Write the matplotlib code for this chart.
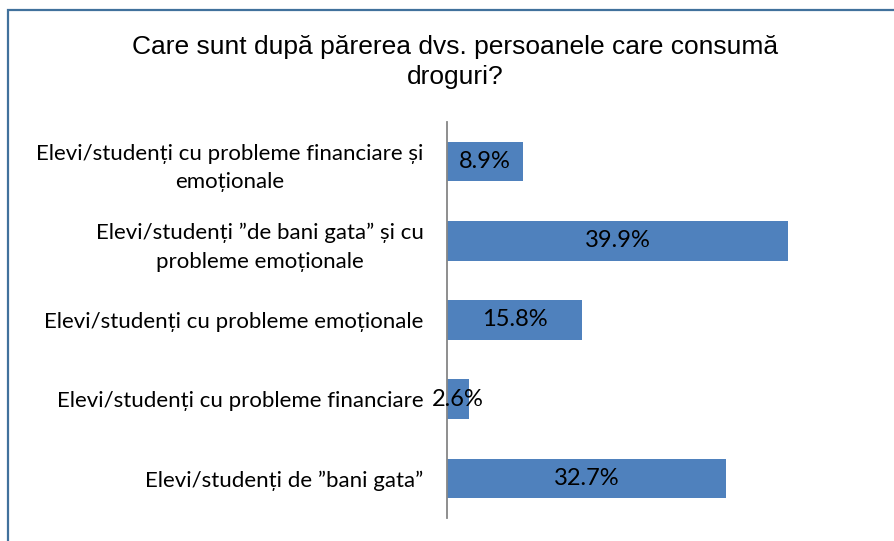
import matplotlib
matplotlib.use("Agg")
import matplotlib.pyplot as plt
from matplotlib.patches import Rectangle

categories = [
    "Elevi/studenți cu probleme financiare și\nemoționale",
    "Elevi/studenți ”de bani gata” și cu\nprobleme emoționale",
    "Elevi/studenți cu probleme emoționale",
    "Elevi/studenți cu probleme financiare",
    "Elevi/studenți de ”bani gata”",
]
values = [8.9, 39.9, 15.8, 2.6, 32.7]

W, H = 894, 541
fig = plt.figure(figsize=(W / 100, H / 100), dpi=100)
ax = fig.add_axes([447 / W, (H - 518) / H, (874 - 447) / W, (518 - 122) / H])

ypos = list(range(len(categories)))
bars = ax.barh(ypos, values, height=0.5, color="#4F81BD")
ax.set_ylim(len(categories) - 0.5, -0.5)
ax.set_xlim(0, 50)

for b, v in zip(bars, values):
    ax.text(b.get_x() + b.get_width() / 2, b.get_y() + b.get_height() / 2,
            f"{v}%", ha="center", va="center", fontsize=17,
            family=["Lato", "DejaVu Sans"], color="black")

ax.set_yticks(ypos)
ax.set_yticklabels(categories, fontsize=16, family=["Lato", "DejaVu Sans"],
                   multialignment="center", linespacing=1.55)
ax.tick_params(axis="y", length=0, pad=17)
ax.set_xticks([])
for s in ["top", "right", "bottom"]:
    ax.spines[s].set_visible(False)
ax.spines["left"].set_color("#868686")
ax.spines["left"].set_linewidth(1.3)

fig.text(455 / W, 1 - 62 / H,
         "Care sunt după părerea dvs. persoanele care consumă\ndroguri?",
         ha="center", va="center", fontsize=19, family=["Liberation Sans", "DejaVu Sans"],
         linespacing=1.35)

# outer frame of the chart area
fig.patches.append(Rectangle((7.5 / W, -0.1), 1.2, 1.1 - 10.5 / H,
                             transform=fig.transFigure, fill=False,
                             edgecolor="#41719C", linewidth=1.6, clip_on=False))

fig.savefig("out.png", dpi=100)
